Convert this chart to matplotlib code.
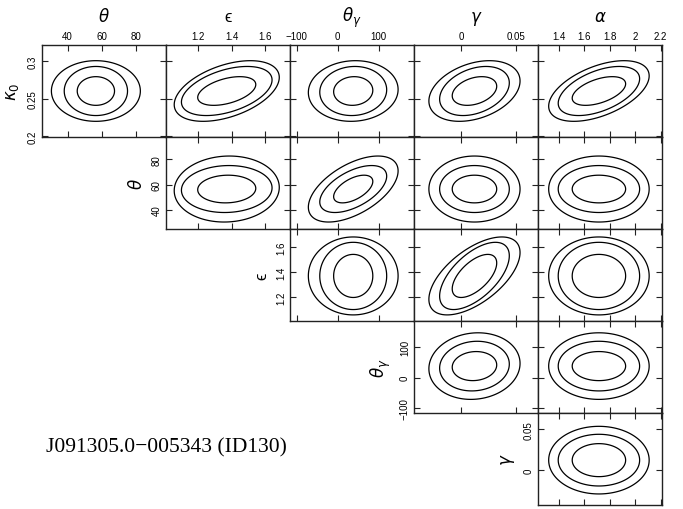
import numpy as np
import matplotlib
matplotlib.use("Agg")
import matplotlib.pyplot as plt

# ---------------- data ----------------
PARAMS = ["kappa0", "theta", "eps", "theta_g", "gamma", "alpha"]
LABELS = [r"$\kappa_0$", r"$\theta$", "\u03f5", r"$\theta_\gamma$", r"$\gamma$", r"$\alpha$"]

# marginal centres of the contours
MEANS = [0.26, 56.5, 1.37, 38.0, 0.012, 1.714]

# half extents (along each axis) of the inner / middle / outer contour
HALF_KAPPA0 = [0.0191, 0.0327, 0.0404]
HALF_THETA = [10.9, 18.5, 26.0]
HALF_EPS = [0.173, 0.27, 0.313]
HALF_THETA_G = [48.0, 82.0, 110.0]
HALF_GAMMA = [0.0203, 0.0318, 0.0416]
HALF_ALPHA = [0.21, 0.32, 0.395]
HALF = [HALF_KAPPA0, HALF_THETA, HALF_EPS, HALF_THETA_G, HALF_GAMMA, HALF_ALPHA]

# axis ranges
LIMITS = [(0.1987, 0.3213), (25.0, 97.5), (1.008, 1.747),
          (-117.0, 187.0), (-0.0432, 0.0700), (1.235, 2.21)]

# ticks and tick labels
TICKS = [[0.2, 0.25, 0.3], [40, 60, 80], [1.2, 1.4, 1.6],
         [-100, 0, 100], [0, 0.05], [1.4, 1.6, 1.8, 2.0, 2.2]]
TICK_LABELS = [["0.2", "0.25", "0.3"], ["40", "60", "80"], ["1.2", "1.4", "1.6"],
               ["\u2212100", "0", "100"], ["0", "0.05"], ["1.4", "1.6", "1.8", "2", "2.2"]]

# correlation in each panel: row parameter (index r), column parameter (index c)
RHO = {
    (0, 1): 0.0, (0, 2): 0.45, (0, 3): 0.05, (0, 4): 0.33, (0, 5): 0.5,
    (1, 2): 0.05, (1, 3): 0.55, (1, 4): 0.0, (1, 5): 0.0,
    (2, 3): 0.0, (2, 4): 0.6, (2, 5): 0.0,
    (3, 4): 0.08, (3, 5): 0.0,
    (4, 5): 0.0,
}

TITLE = "J091305.0\u2212005343 (ID130)"

# ---------------- figure ----------------
W, H = 683, 510
fig = plt.figure(figsize=(W / 100, H / 100), dpi=100)
plt.rcParams["font.family"] = ["Liberation Sans", "DejaVu Sans"]

col_edges = [42, 166, 290, 414, 538, 662]
row_edges = [46, 138, 230, 322, 414, 506]

for r in range(5):
    for ci in range(5):
        c = ci + 1  # parameter index of this column
        if c <= r:
            continue
        x0, x1 = col_edges[ci], col_edges[ci + 1]
        y0, y1 = row_edges[r], row_edges[r + 1]
        ax = fig.add_axes([x0 / W, 1 - y1 / H, (x1 - x0) / W, (y1 - y0) / H])

        xlo, xhi = LIMITS[c]
        ylo, yhi = LIMITS[r]
        gx = np.linspace(xlo, xhi, 300)
        gy = np.linspace(ylo, yhi, 300)
        X, Y = np.meshgrid(gx, gy)
        rho = RHO[(r, c)]
        for k in range(3):
            u = (X - MEANS[c]) / HALF[c][k]
            v = (Y - MEANS[r]) / HALF[r][k]
            Q = (u * u - 2 * rho * u * v + v * v) / (1 - rho * rho)
            ax.contour(X, Y, Q, levels=[1.0], colors="k", linewidths=0.9)

        ax.set_xlim(xlo, xhi)
        ax.set_ylim(ylo, yhi)
        ax.set_xticks(TICKS[c])
        ax.set_yticks(TICKS[r])
        ax.tick_params(direction="in", top=True, right=True, length=4.5,
                       width=0.8, color="#222222", labelsize=7, pad=3)
        for s in ax.spines.values():
            s.set_linewidth(1.0)
            s.set_color("#222222")

        if r == 0:
            ax.set_xticklabels(TICK_LABELS[c])
            ax.tick_params(labeltop=True, labelbottom=False)
            ax.xaxis.set_label_position("top")
            ax.set_xlabel(LABELS[c], fontsize=12, labelpad=7)
        else:
            ax.set_xticklabels([])
        if c == r + 1:
            ax.set_yticklabels(TICK_LABELS[r], rotation=90, va="center")
            ax.set_ylabel(LABELS[r], fontsize=12, labelpad=5)
        else:
            ax.set_yticklabels([])

fig.text(46 / W, 1 - 448 / H, TITLE, fontsize=15.5, va="center", ha="left",
         family=["Liberation Serif", "DejaVu Serif"])

fig.savefig("out.png", dpi=100)
